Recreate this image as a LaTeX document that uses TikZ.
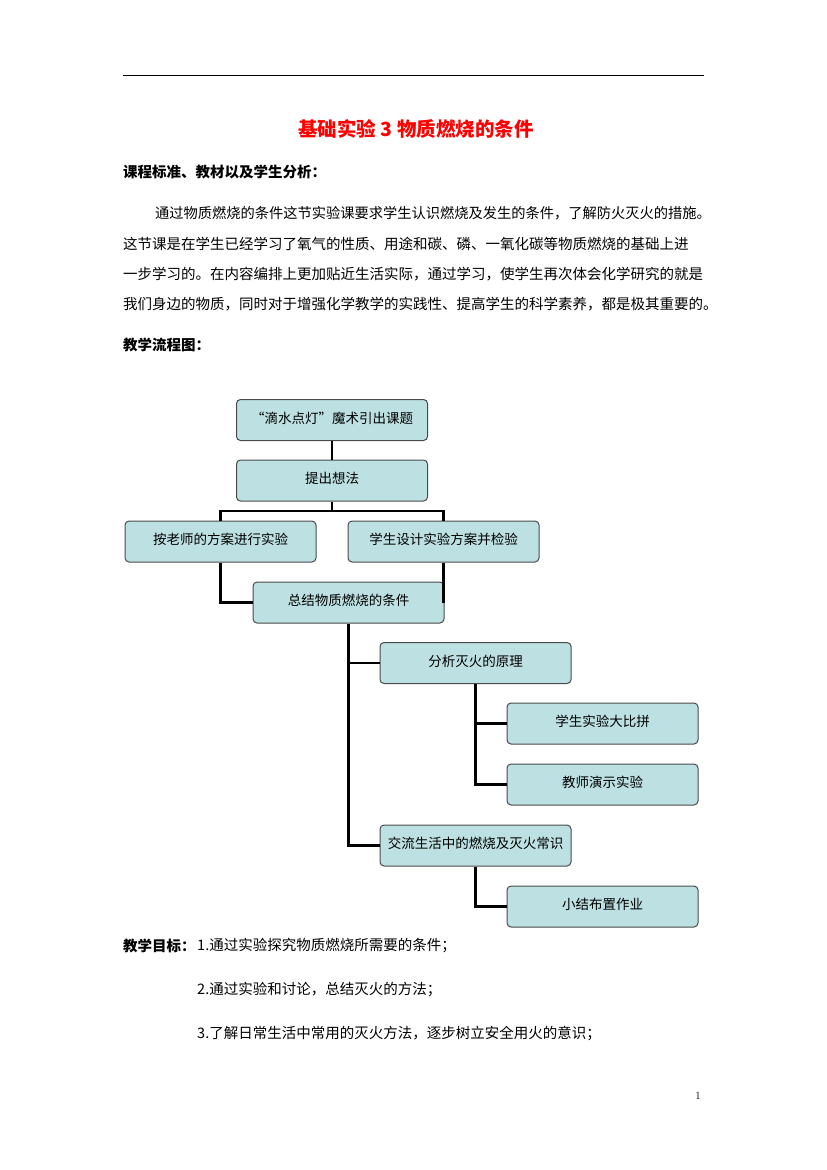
\documentclass[tikz,border=0pt]{standalone}
\usepackage{fontspec}
\newfontfamily\cjk{Noto Sans CJK SC}
\definecolor{boxfill}{HTML}{BDE0E2}
\definecolor{boxline}{HTML}{4A4A4A}
\begin{document}
\begin{tikzpicture}[x=1pt,y=-1pt]
	\tikzstyle{box}=[rectangle,rounded corners=4pt,draw=boxline,fill=boxfill,line width=1pt,minimum width=191pt,minimum height=41pt,inner sep=0pt,font=\cjk\fontsize{13.5}{16}\selectfont]
	\tikzstyle{link}=[line width=2.5pt,black]
	\tikzstyle{body}=[anchor=west,inner sep=0pt,font=\cjk\fontsize{14.5}{17}\selectfont]
	\tikzstyle{head}=[anchor=west,inner sep=0pt,font=\cjk\bfseries\fontsize{14.5}{17}\selectfont]
	\useasboundingbox (0,0) rectangle (827,1170);
	\fill[white] (0,0) rectangle (827,1170);

	% page header
	\draw[line width=1pt] (123,75) -- (704,75);
	\node[inner sep=0pt,text=red,font=\cjk\bfseries\fontsize{19.5}{22}\selectfont] (T) at (416,129) {基础实验 3 物质燃烧的条件};

	% text
	\node[head] (H1) at (123,172) {课程标准、教材以及学生分析：};
	\node[body,font=\cjk\fontsize{14.25}{17}\selectfont] (L1) at (155,213) {通过物质燃烧的条件这节实验课要求学生认识燃烧及发生的条件，了解防火灭火的措施。};
	\node[body] (L2) at (123,244) {这节课是在学生已经学习了氧气的性质、用途和碳、磷、一氧化碳等物质燃烧的基础上进};
	\node[body] (L3) at (123,274) {一步学习的。在内容编排上更加贴近生活实际，通过学习，使学生再次体会化学研究的就是};
	\node[body] (L4) at (123,304) {我们身边的物质，同时对于增强化学教学的实践性、提高学生的科学素养，都是极其重要的。};
	\node[head] (H2) at (123,345) {教学流程图：};

	% flow chart
	\node[box] (A) at (332,420) {\raisebox{5pt}{“滴水点灯”魔术引出课题}};
	\node[box] (B) at (332,480.5) {\raisebox{5pt}{提出想法}};
	\node[box] (C) at (220.5,541.5) {\raisebox{5pt}{按老师的方案进行实验}};
	\node[box] (D) at (443.5,541.5) {\raisebox{5pt}{学生设计实验方案并检验}};
	\node[box] (E) at (348.5,602.5) {\raisebox{5pt}{总结物质燃烧的条件}};
	\node[box] (F) at (475.5,663) {\raisebox{5pt}{分析灭火的原理}};
	\node[box] (G) at (602.5,723.5) {\raisebox{5pt}{学生实验大比拼}};
	\node[box] (K) at (602.5,784.5) {\raisebox{5pt}{教师演示实验}};
	\node[box] (I) at (475.5,845.5) {\raisebox{5pt}{交流生活中的燃烧及灭火常识}};
	\node[box] (J) at (602.5,906.5) {\raisebox{5pt}{小结布置作业}};
	\coordinate (S) at (332,511);

	\draw[link] (A.south) -- (B.north);
	\draw[link] (B.south) -- (S);
	\draw[link] (S) -| (C.north);
	\draw[link] (S) -| (D.north);

	\draw[link] (C.south) |- (E.west);
	\draw[link] (D.south) -- (D.south |- E.east);

	\draw[link] (E.south) |- (F.west);
	\draw[link] (E.south) |- (I.west);

	\draw[link] (F.south) |- (G.west);
	\draw[link] (F.south) |- (K.west);

	\draw[link] (I.south) |- (J.west);

	% goals
	\node[head] (H3) at (123,946) {教学目标：};
	\node[body] (G1) at (197,946) {1.通过实验探究物质燃烧所需要的条件；};
	\node[body] (G2) at (197,990) {2.通过实验和讨论，总结灭火的方法；};
	\node[body] (G3) at (197,1033) {3.了解日常生活中常用的灭火方法，逐步树立安全用火的意识；};

	\node[inner sep=0pt,font=\fontsize{11}{13}\selectfont] (P) at (698,1096) {1};
\end{tikzpicture}
\end{document}
